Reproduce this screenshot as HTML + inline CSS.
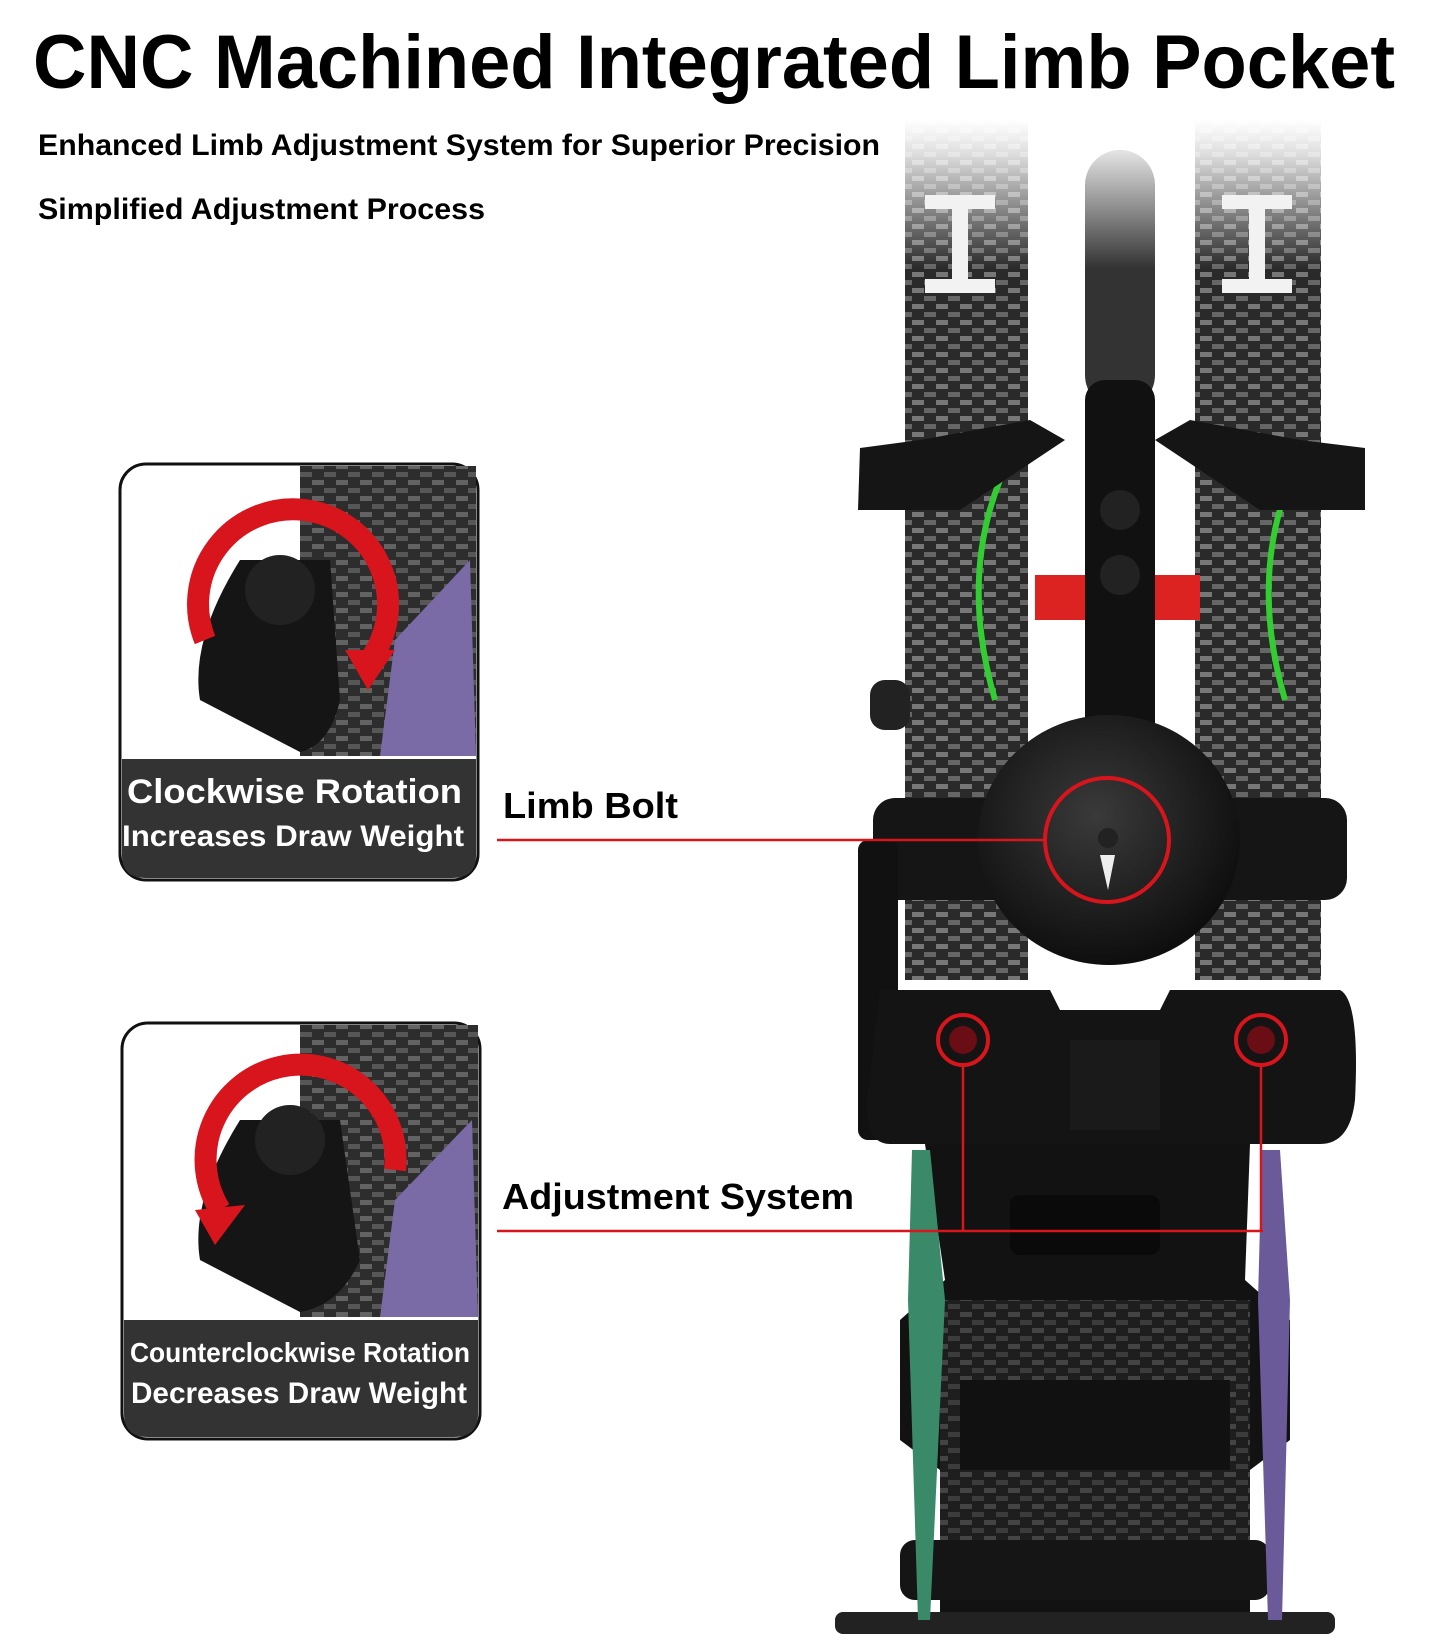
<!DOCTYPE html>
<html><head><meta charset="utf-8"><style>
html,body{margin:0;padding:0;background:#fff;}
svg{display:block;}
</style></head><body>
<svg width="1445" height="1634" viewBox="0 0 1445 1634" xmlns="http://www.w3.org/2000/svg">
<defs>
<linearGradient id="fade" x1="0" y1="0" x2="0" y2="1">
<stop offset="0" stop-color="#fff"/><stop offset="0.08" stop-color="#eee"/><stop offset="0.35" stop-color="#444"/><stop offset="1" stop-color="#2a2a2a"/>
</linearGradient>
<pattern id="carbon" width="24" height="16" patternUnits="userSpaceOnUse">
<rect width="24" height="16" fill="#2a2a2a"/><rect x="0" y="0" width="12" height="5" fill="#777"/><rect x="12" y="8" width="12" height="5" fill="#666"/>
</pattern>
<linearGradient id="fadeMask" x1="0" y1="0" x2="0" y2="1">
<stop offset="0" stop-color="#fff" stop-opacity="1"/><stop offset="0.1" stop-color="#fff" stop-opacity="0.85"/><stop offset="0.45" stop-color="#fff" stop-opacity="0"/>
</linearGradient>
<radialGradient id="disc" cx="0.45" cy="0.4" r="0.6"><stop offset="0" stop-color="#3a3a3a"/><stop offset="1" stop-color="#0e0e0e"/></radialGradient>
</defs>

<!-- limbs -->
<rect x="905" y="120" width="123" height="860" fill="url(#carbon)"/>
<rect x="1195" y="120" width="126" height="860" fill="url(#carbon)"/>
<rect x="1085" y="150" width="70" height="260" rx="35" fill="#333"/>
<rect x="895" y="120" width="440" height="330" fill="url(#fadeMask)"/>
<!-- I marks -->
<g fill="#f2f2f2">
<rect x="925" y="195" width="70" height="14"/><rect x="952" y="209" width="16" height="70"/><rect x="925" y="279" width="70" height="14"/>
<rect x="1222" y="195" width="70" height="14"/><rect x="1249" y="209" width="16" height="70"/><rect x="1222" y="279" width="70" height="14"/>
</g>
<!-- green arcs -->
<path d="M1000 480 Q960 580 995 700" stroke="#3c3" stroke-width="6" fill="none"/>
<path d="M1290 480 Q1250 580 1285 700" stroke="#3c3" stroke-width="6" fill="none"/>
<!-- upper brackets -->
<path d="M860 448 L920 440 L1030 420 L1065 440 L960 510 L858 510 Z" fill="#151515"/>
<path d="M1365 448 L1300 440 L1190 420 L1155 440 L1260 510 L1365 510 Z" fill="#151515"/>
<rect x="1085" y="380" width="70" height="450" rx="20" fill="#111"/>
<circle cx="1120" cy="510" r="20" fill="#222"/><circle cx="1120" cy="575" r="20" fill="#222"/>
<rect x="1035" y="575" width="50" height="45" fill="#d22"/><rect x="1155" y="575" width="45" height="45" fill="#d22"/>
<rect x="870" y="680" width="40" height="50" rx="15" fill="#222"/>
<!-- pocket bar -->
<rect x="873" y="798" width="474" height="102" rx="22" fill="#151515"/>
<rect x="858" y="840" width="40" height="300" rx="10" fill="#111"/>
<ellipse cx="1109" cy="840" rx="131" ry="125" fill="url(#disc)"/>
<!-- lower bracket -->
<path d="M880 990 L1050 990 L1060 1010 L1160 1010 L1170 990 L1340 990 Q1360 1000 1355 1100 Q1350 1144 1320 1144 L890 1144 Q865 1144 867 1100 Z" fill="#141414"/>
<rect x="1070" y="1040" width="90" height="90" fill="#1a1a1a"/>
<!-- riser lower -->
<path d="M925 1144 L1250 1144 L1245 1280 L1290 1320 L1290 1440 L1250 1470 L1250 1634 L940 1634 L940 1470 L900 1440 L900 1320 L945 1280 Z" fill="#121212"/>
<rect x="1010" y="1195" width="150" height="60" rx="10" fill="#0a0a0a"/>
<rect x="940" y="1300" width="310" height="260" fill="url(#carbon)" opacity="0.5"/>
<rect x="960" y="1380" width="270" height="90" fill="#111"/>
<rect x="900" y="1540" width="370" height="60" rx="15" fill="#151515"/>
<rect x="835" y="1612" width="500" height="22" rx="8" fill="#222"/>
<!-- rainbow side plates -->
<path d="M912 1150 L930 1150 L945 1300 L930 1620 L918 1620 L908 1300 Z" fill="#3a8a6a"/>
<path d="M1262 1150 L1280 1150 L1290 1300 L1282 1620 L1268 1620 L1258 1300 Z" fill="#6a5a9a"/>

<!-- red highlights & leader lines -->
<g stroke="#d8141c" fill="none">
<circle cx="1107" cy="840" r="62" stroke-width="4"/>
<circle cx="963" cy="1040" r="25" stroke-width="4"/>
<circle cx="1261" cy="1040" r="25" stroke-width="4"/>
<line x1="497" y1="840" x2="1045" y2="840" stroke-width="2.5"/>
<line x1="497" y1="1231" x2="1263" y2="1231" stroke-width="2.5"/>
<line x1="963" y1="1065" x2="963" y2="1231" stroke-width="2.5"/>
<line x1="1261" y1="1065" x2="1261" y2="1231" stroke-width="2.5"/>
</g>
<circle cx="963" cy="1040" r="14" fill="#6a0d14"/><circle cx="1261" cy="1040" r="14" fill="#6a0d14"/>
<path d="M1100 855 L1115 855 L1108 890 Z" fill="#eee"/>
<circle cx="1108" cy="838" r="10" fill="#222"/>

<!-- texts -->
<g font-family="'Liberation Sans',sans-serif" font-weight="bold" fill="#000">
<text x="33" y="88" font-size="76" textLength="1362" lengthAdjust="spacingAndGlyphs">CNC Machined Integrated Limb Pocket</text>
<text x="38" y="155" font-size="30" textLength="842" lengthAdjust="spacingAndGlyphs">Enhanced Limb Adjustment System for Superior Precision</text>
<text x="38" y="219" font-size="30" textLength="447" lengthAdjust="spacingAndGlyphs">Simplified Adjustment Process</text>
<text x="503" y="818" font-size="36" textLength="175" lengthAdjust="spacingAndGlyphs">Limb Bolt</text>
<text x="502" y="1209" font-size="36" textLength="352" lengthAdjust="spacingAndGlyphs">Adjustment System</text>
</g>

<!-- box 1 -->
<g>
<rect x="120" y="464" width="358" height="416" rx="26" fill="#fff" stroke="#111" stroke-width="3"/>
<rect x="300" y="466" width="176" height="290" fill="#333"/>
<rect x="300" y="466" width="176" height="290" fill="url(#carbon)" opacity="0.7"/>
<path d="M395 640 L470 560 L476 756 L380 756 Z" fill="#7a6aa5"/>
<path d="M200 700 Q190 640 240 560 L330 560 L340 700 Q330 745 300 752 Z" fill="#151515"/>
<circle cx="280" cy="590" r="35" fill="#222"/>
<path d="M370 660 A95 95 0 1 0 205 640" stroke="#d8141c" stroke-width="22" fill="none"/>
<path d="M345 650 L395 650 L368 690 Z" fill="#d8141c"/>
<path d="M122 759 L476 759 L476 856 Q476 878 452 878 L146 878 Q122 878 122 856 Z" fill="#333"/>
<g font-family="'Liberation Sans',sans-serif" font-weight="bold" fill="#fff">
<text x="127" y="803" font-size="34" textLength="335" lengthAdjust="spacingAndGlyphs">Clockwise Rotation</text>
<text x="122" y="846" font-size="30" textLength="342" lengthAdjust="spacingAndGlyphs">Increases Draw Weight</text>
</g>
</g>

<!-- box 2 -->
<g>
<rect x="122" y="1023" width="358" height="416" rx="26" fill="#fff" stroke="#111" stroke-width="3"/>
<rect x="300" y="1025" width="178" height="292" fill="#333"/>
<rect x="300" y="1025" width="178" height="292" fill="url(#carbon)" opacity="0.7"/>
<path d="M395 1200 L472 1120 L478 1317 L380 1317 Z" fill="#7a6aa5"/>
<path d="M200 1260 Q190 1200 240 1120 L340 1120 L360 1260 Q340 1305 300 1312 Z" fill="#151515"/>
<circle cx="290" cy="1140" r="35" fill="#222"/>
<path d="M220 1210 A95 95 0 1 1 395 1170" stroke="#d8141c" stroke-width="22" fill="none"/>
<path d="M195 1210 L245 1205 L215 1245 Z" fill="#d8141c"/>
<path d="M124 1320 L478 1320 L478 1414 Q478 1437 454 1437 L148 1437 Q124 1437 124 1414 Z" fill="#333"/>
<g font-family="'Liberation Sans',sans-serif" font-weight="bold" fill="#fff">
<text x="130" y="1362" font-size="28" textLength="340" lengthAdjust="spacingAndGlyphs">Counterclockwise Rotation</text>
<text x="131" y="1403" font-size="30" textLength="336" lengthAdjust="spacingAndGlyphs">Decreases Draw Weight</text>
</g>
</g>
</svg>
</body></html>
